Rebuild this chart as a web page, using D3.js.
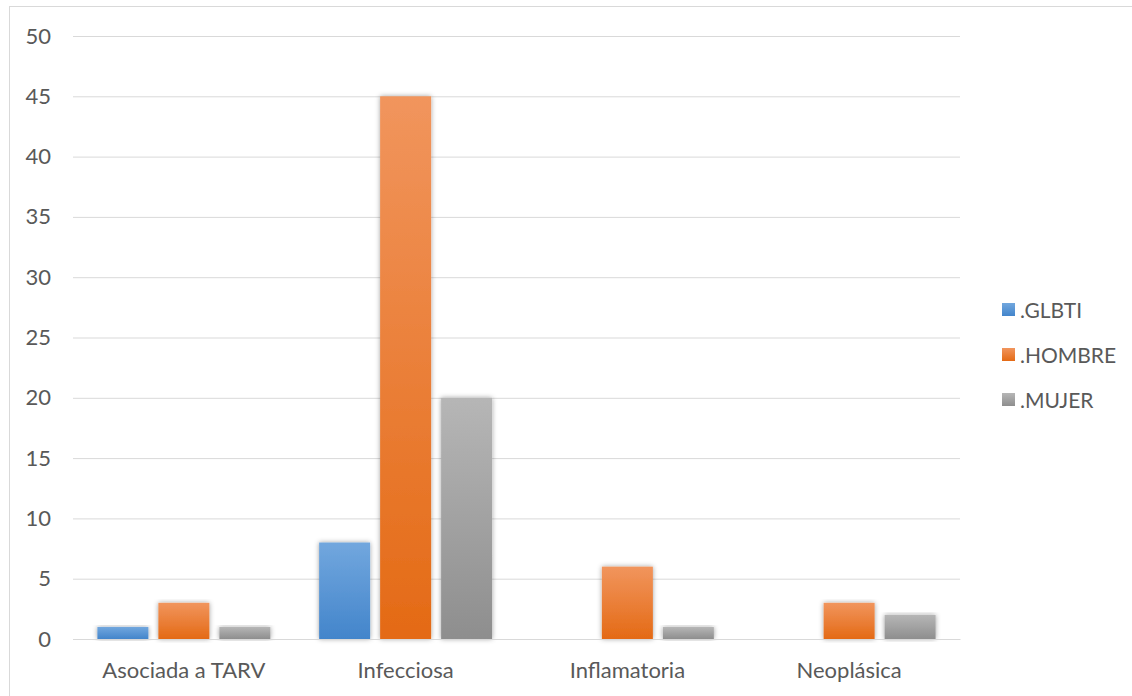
<!DOCTYPE html>
<html>
<head>
<meta charset="utf-8">
<script src="https://cdn.jsdelivr.net/npm/d3@7"></script>
<style>
  html, body { margin: 0; padding: 0; background: #fff; }
  svg { display: block; }
  text { font-family: Lato, "Open Sans", sans-serif; fill: #595959; }
</style>
</head>
<body>
<svg id="chart" width="1132" height="696"></svg>
<script>
// Data
const categories = ["Asociada a TARV", "Infecciosa", "Inflamatoria", "Neoplásica"];
const seriesNames = [".GLBTI", ".HOMBRE", ".MUJER"];
const glbti  = [1, 8, 0, 0];
const hombre = [3, 45, 6, 3];
const mujer  = [1, 20, 1, 2];
const yTicks = [0, 5, 10, 15, 20, 25, 30, 35, 40, 45, 50];

const seriesValues = [glbti, hombre, mujer];
const gradStops = [
  ["#72a7de", "#4385cb"],
  ["#f1955d", "#e46a15"],
  ["#b6b6b6", "#8e8e8e"]
];

const svg = d3.select("#chart");
const W = 1132, H = 696;

// chart frame
svg.append("rect")
  .attr("x", 9.5).attr("y", 6.5)
  .attr("width", W + 10).attr("height", H + 10)
  .attr("fill", "none").attr("stroke", "#d9d9d9").attr("stroke-width", 1);

const plot = { left: 73, right: 960, top: 36, bottom: 639 };

const x = d3.scaleBand().domain(categories).range([plot.left, plot.right]).paddingInner(0).paddingOuter(0);
const xs = d3.scaleBand().domain(seriesNames).range([0, x.bandwidth()]).paddingInner(0.164).paddingOuter(0.4);
const y = d3.scaleLinear().domain([0, 50]).range([plot.bottom, plot.top]);

const defs = svg.append("defs");
seriesNames.forEach((s, i) => {
  const g = defs.append("linearGradient")
    .attr("id", "grad" + i).attr("x1", 0).attr("y1", 0).attr("x2", 0).attr("y2", 1);
  g.append("stop").attr("offset", "0%").attr("stop-color", gradStops[i][0]);
  g.append("stop").attr("offset", "100%").attr("stop-color", gradStops[i][1]);
});
const f = defs.append("filter").attr("id", "shadow")
  .attr("x", "-30%").attr("y", "-10%").attr("width", "160%").attr("height", "120%");
f.append("feDropShadow").attr("dx", 0).attr("dy", 0).attr("stdDeviation", 2.5)
  .attr("flood-color", "#000").attr("flood-opacity", 0.38);

// gridlines
const yAxis = d3.axisLeft(y).tickValues(yTicks).tickSize(-(plot.right - plot.left)).tickPadding(22);
const ga = svg.append("g").attr("transform", `translate(${plot.left},0)`).call(yAxis);
ga.select(".domain").remove();
ga.selectAll(".tick line").attr("stroke", "#d9d9d9").attr("stroke-width", 1);
ga.selectAll(".tick text").attr("font-size", 22).style("fill", "#595959");

// bars
const groups = svg.append("g").selectAll("g").data(categories).join("g")
  .attr("transform", d => `translate(${x(d)},0)`);
groups.each(function(cat, ci) {
  const g = d3.select(this);
  seriesNames.forEach((s, si) => {
    const v = seriesValues[si][ci];
    if (v <= 0) return;
    g.append("rect")
      .attr("x", xs(s))
      .attr("y", y(v))
      .attr("width", xs.bandwidth())
      .attr("height", y(0) - y(v))
      .attr("fill", `url(#grad${si})`)
      .attr("filter", "url(#shadow)");
  });
});

// category labels
const xAxis = d3.axisBottom(x).tickSize(0).tickPadding(23);
const gx = svg.append("g").attr("transform", `translate(0,${plot.bottom})`).call(xAxis);
gx.select(".domain").attr("stroke", "#d9d9d9");
gx.selectAll(".tick text").attr("font-size", 22).style("fill", "#595959");

// legend
const legend = svg.append("g").attr("transform", "translate(1002,303)");
seriesNames.forEach((s, i) => {
  const row = legend.append("g").attr("transform", `translate(0,${i * 45})`);
  row.append("rect").attr("width", 13).attr("height", 13).attr("fill", `url(#grad${i})`);
  row.append("text").attr("x", 18).attr("y", 7).attr("dy", "0.36em")
    .attr("font-size", 21).text(s);
});
</script>
</body>
</html>
